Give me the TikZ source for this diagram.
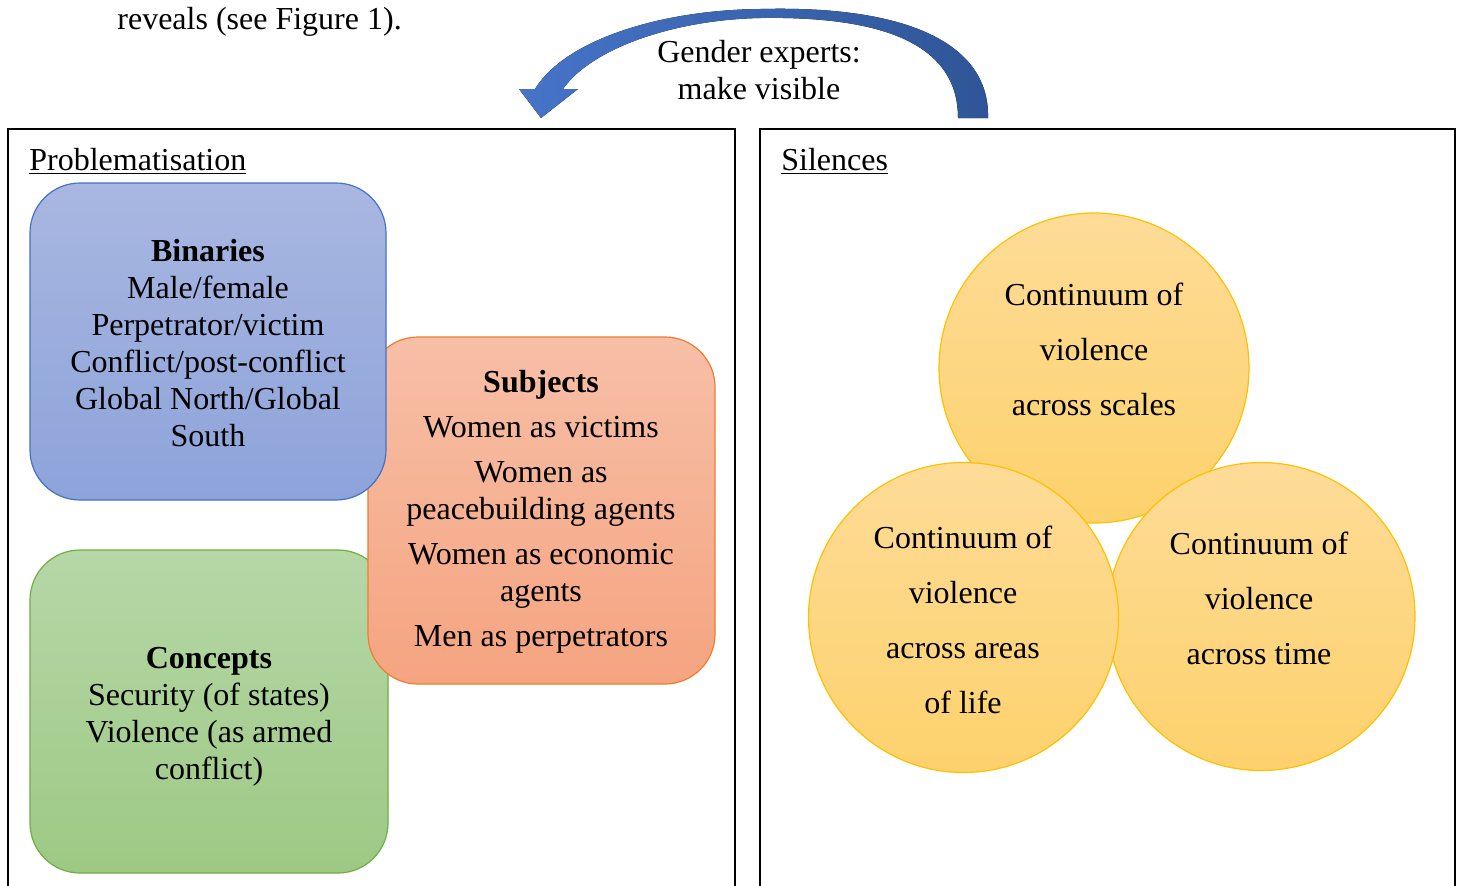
\documentclass[tikz,border=0pt]{standalone}
\usepackage{fontspec}
\setmainfont{Liberation Serif}
\begin{document}
\begin{tikzpicture}[x=0.5pt,y=-0.5pt,
  txt/.style={font=\fontsize{16}{18.5}\selectfont, align=center, inner sep=0pt},
  ctxt/.style={font=\fontsize{16}{27.5}\selectfont, align=center, inner sep=0pt},
  frame/.style={draw=black, line width=1pt},
  rbox/.style={rounded corners=25pt, line width=0.6pt, inner sep=0pt},
  circ/.style={circle, draw={rgb,255:red,255;green,192;blue,0}, line width=0.6pt,
    top color={rgb,255:red,254;green,220;blue,152},
    bottom color={rgb,255:red,253;green,209;blue,108}, inner sep=0pt}
]
\useasboundingbox (0,0) rectangle (1462,885);
\begin{scope}
\clip (0,0) rectangle (1462,885);
% frames
\draw[frame] (8,129) rectangle (735,900);
\draw[frame] (760,129) rectangle (1455,900);
\end{scope}

\node[txt, anchor=base west] (intro) at (117,29) {reveals (see Figure 1).};

% curved arrow
\fill[left color={rgb,255:red,70;green,116;blue,200}, right color={rgb,255:red,47;green,85;blue,151}]
  (988,118) .. controls (990,45) and (910,5) .. (760,9)
  .. controls (660,10) and (565,40) .. (535,89)
  -- (519,89) -- (541,118) -- (578,89) -- (563,89)
  .. controls (590,50) and (670,20) .. (760,18)
  .. controls (885,16) and (958,45) .. (958,118) -- cycle;
\node[txt] (gender) at (759,70) {Gender experts:\\make visible};

\node[txt, anchor=base west] (prob) at (29,170) {\underline{Problematisation}};
\node[txt, anchor=base west] (sil) at (781,170) {\underline{Silences}};

% boxes
\node[rbox, draw={rgb,255:red,112;green,173;blue,71},
  top color={rgb,255:red,182;green,215;blue,167}, bottom color={rgb,255:red,157;green,201;blue,132},
  minimum width=179pt, minimum height=161.5pt] (conc) at (209,711.5) {};
\node[txt] (conct) at (209,717) {\textbf{Concepts}\\Security (of states)\\Violence (as armed\\conflict)};

\node[rbox, draw={rgb,255:red,237;green,125;blue,49},
  top color={rgb,255:red,247;green,191;blue,167}, bottom color={rgb,255:red,245;green,164;blue,128},
  minimum width=173.5pt, minimum height=173.5pt] (subj) at (541.5,510.5) {};
\node[txt] (subjt) at (541,512) {\textbf{Subjects}\\[4pt]Women as victims\\[4pt]Women as\\peacebuilding agents\\[4pt]Women as economic\\agents\\[4pt]Men as perpetrators};

\node[rbox, draw={rgb,255:red,68;green,114;blue,196},
  top color={rgb,255:red,169;green,183;blue,225}, bottom color={rgb,255:red,141;green,163;blue,218},
  minimum width=178pt, minimum height=158.5pt] (bin) at (208,341.5) {};
\node[txt] (bint) at (208,343) {\textbf{Binaries}\\Male/female\\Perpetrator/victim\\Conflict/post-conflict\\Global North/Global\\South};

% circles
\node[circ, minimum size=155pt] (c1) at (1094,368) {};
\node[circ, minimum size=154pt] (c3) at (1261,616.5) {};
\node[circ, minimum size=155pt] (c2) at (963.5,617.5) {};
\node[ctxt] (c1t) at (1094,349) {Continuum of\\violence\\across scales};
\node[ctxt] (c2t) at (963,620) {Continuum of\\violence\\across areas\\of life};
\node[ctxt] (c3t) at (1259,598) {Continuum of\\violence\\across time};
\end{tikzpicture}
\end{document}
